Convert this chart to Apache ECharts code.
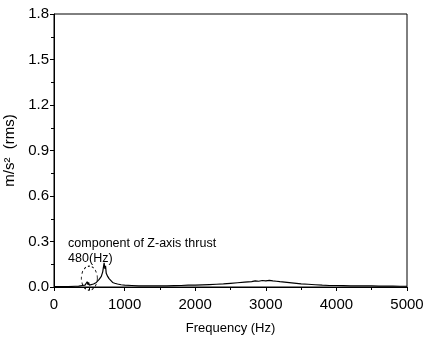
<!DOCTYPE html>
<html>
<head>
<meta charset="utf-8">
<script src="https://cdn.jsdelivr.net/npm/echarts@6/dist/echarts.min.js"></script>
<style>
  html, body { margin: 0; padding: 0; background: #fff; }
  #chart { width: 423px; height: 337px; }
</style>
</head>
<body>
<div id="chart"></div>
<script>
// spectrum
const freq = [0, 100, 200, 300, 350, 400, 440, 460, 470, 480,
  490, 500, 520, 560, 600, 640, 670, 690, 700, 710,
  720, 730, 740, 750, 760, 780, 800, 830, 860, 900,
  950, 1000, 1100, 1200, 1300, 1400, 1500, 1600, 1700, 1800,
  1900, 2000, 2100, 2200, 2300, 2400, 2500, 2600, 2700, 2800,
  2850, 2900, 2950, 3000, 3050, 3100, 3150, 3200, 3300, 3400,
  3500, 3600, 3700, 3800, 3900, 4000, 4100, 4200, 4300, 4400,
  4500, 4600, 4700, 4800, 4900, 5000];
const amp = [0.002, 0.002, 0.003, 0.005, 0.006, 0.01, 0.012, 0.02, 0.035, 0.015,
  0.03, 0.012, 0.015, 0.02, 0.03, 0.05, 0.07, 0.1, 0.13, 0.16,
  0.12, 0.14, 0.09, 0.08, 0.07, 0.055, 0.045, 0.03, 0.025, 0.02,
  0.015, 0.012, 0.01, 0.008, 0.008, 0.007, 0.008, 0.008, 0.009, 0.01,
  0.012, 0.012, 0.014, 0.016, 0.018, 0.02, 0.024, 0.028, 0.032, 0.036,
  0.04, 0.038, 0.043, 0.04, 0.044, 0.04, 0.038, 0.035, 0.03, 0.025,
  0.02, 0.018, 0.015, 0.012, 0.01, 0.01, 0.009, 0.008, 0.008, 0.007,
  0.007, 0.006, 0.006, 0.006, 0.005, 0.005];

const noteText = "component of Z-axis thrust";
const noteFreq = "480(Hz)";

const font = "'Liberation Sans', Arial, sans-serif";
const chart = echarts.init(document.getElementById("chart"));

const option = {
  animation: false,
  grid: {
    left: 54, right: 16, top: 14, bottom: 50,
    outerBoundsMode: "none",
    containLabel: false,
    show: true, borderColor: "#000", borderWidth: 1
  },
  xAxis: {
    type: "value",
    min: 0, max: 5000, interval: 1000,
    name: "Frequency (Hz)",
    nameLocation: "middle",
    nameGap: 35,
    nameTextStyle: { fontFamily: font, fontSize: 13, color: "#000" },
    axisLine: { lineStyle: { color: "#000", width: 1 } },
    axisTick: { length: 4, lineStyle: { color: "#000" } },
    minorTick: { show: true, splitNumber: 2, length: 3, lineStyle: { color: "#000" } },
    axisLabel: {
      fontFamily: font, fontSize: 15, color: "#000", margin: 10,
      formatter: v => String(v)
    },
    splitLine: { show: false }
  },
  yAxis: {
    type: "value",
    min: 0, max: 1.8, interval: 0.3,
    name: "m/s\u00b2  (rms)",
    nameLocation: "middle",
    nameGap: 31,
    nameTextStyle: { fontFamily: font, fontSize: 15, color: "#000" },
    axisLine: { show: true, lineStyle: { color: "#000", width: 1 } },
    axisTick: { show: true, length: 4, lineStyle: { color: "#000" } },
    minorTick: { show: true, splitNumber: 2, length: 3, lineStyle: { color: "#000" } },
    axisLabel: {
      fontFamily: font, fontSize: 15, color: "#000", margin: 5,
      formatter: v => v.toFixed(1)
    },
    splitLine: { show: false }
  },
  series: [{
    type: "line",
    data: freq.map((f, i) => [f, amp[i]]),
    showSymbol: false,
    lineStyle: { color: "#000", width: 1.2 },
    z: 3
  }]
};
chart.setOption(option);

// annotation: text and dashed ellipse placed via data coordinates
const pText = chart.convertToPixel({ gridIndex: 0 }, [200, 0.285]);
const pFreq = chart.convertToPixel({ gridIndex: 0 }, [200, 0.19]);
const pRing = chart.convertToPixel({ gridIndex: 0 }, [500, 0.058]);
chart.setOption({
  graphic: [
    {
      type: "text", x: pText[0], y: pText[1],
      style: { text: noteText, font: "12.5px " + font, fill: "#000", textVerticalAlign: "middle" }
    },
    {
      type: "text", x: pFreq[0], y: pFreq[1],
      style: { text: noteFreq, font: "12.5px " + font, fill: "#000", textVerticalAlign: "middle" }
    },
    {
      type: "circle", x: pRing[0], y: pRing[1], scaleY: 1.5,
      shape: { cx: 0, cy: 0, r: 8 },
      style: { fill: "none", stroke: "#000", lineWidth: 0.8, lineDash: [2, 2] }
    }
  ]
});
</script>
</body>
</html>
